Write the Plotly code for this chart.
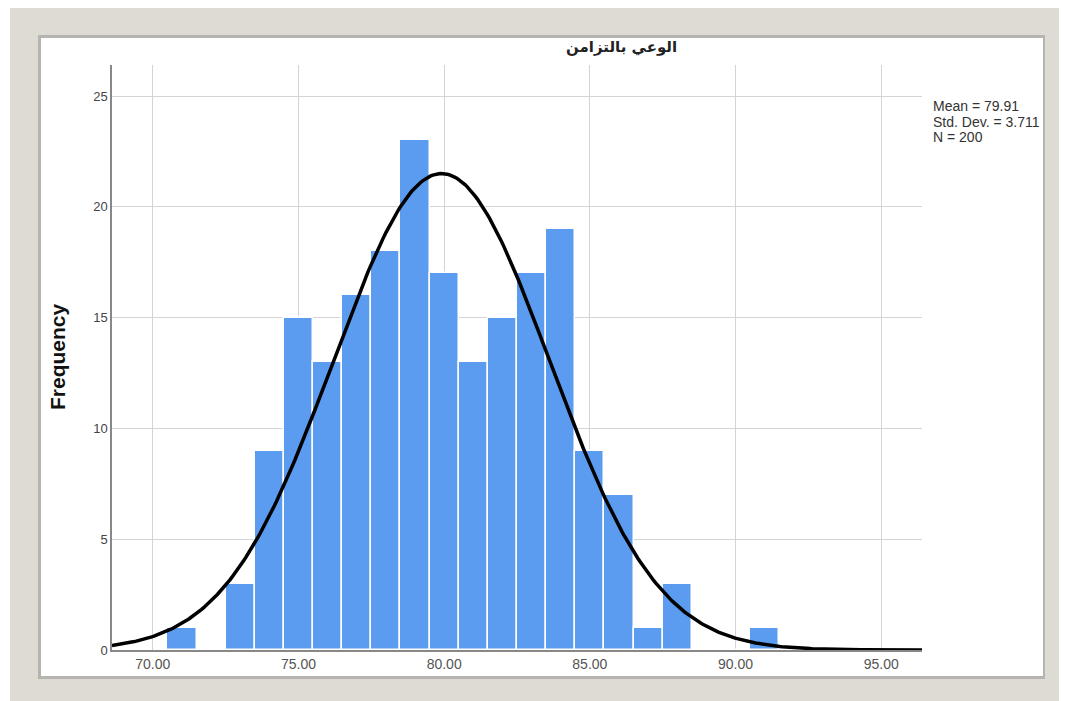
import numpy as np
import plotly.graph_objects as go

# ---- data ----
bin_centers = [71, 72, 73, 74, 75, 76, 77, 78, 79, 80, 81, 82, 83, 84, 85, 86, 87, 88, 89, 90, 91]
frequencies = [1, 0, 3, 9, 15, 13, 16, 18, 23, 17, 13, 15, 17, 19, 9, 7, 1, 3, 0, 0, 1]
mean_val = 79.91
std_val = 3.711
n_val = 200
bin_width = 1.0
x_ticks = [70, 75, 80, 85, 90, 95]
x_tick_labels = ["70.00", "75.00", "80.00", "85.00", "90.00", "95.00"]
y_ticks = [0, 5, 10, 15, 20, 25]
title_text = "الوعي بالتزامن"
stat_lines = ["Mean = %.2f" % mean_val, "Std. Dev. = %.3f" % std_val, "N = %d" % n_val]

# fitted normal curve (as drawn by SPSS from the stated statistics)
xc = np.linspace(68.6, 96.4, 400)
yc = n_val * bin_width / (std_val * np.sqrt(2 * np.pi)) * np.exp(-0.5 * ((xc - mean_val) / std_val) ** 2)

O = 8  # page body margin
W, H = 1067 - O, 701 - O
L, R, T, B = 112 - O, 922 - O, 65 - O, 650 - O

def px(x):
    return (x - O - L) / (R - L)

def py(y):
    return (B - (y - O)) / (B - T)

fig = go.Figure()
fig.add_trace(go.Bar(
    x=bin_centers, y=frequencies, width=bin_width,
    marker=dict(color="#5b9cf0", line=dict(color="white", width=1.5)),
    hoverinfo="x+y", showlegend=False,
))
fig.add_trace(go.Scatter(
    x=xc, y=yc, mode="lines", line=dict(color="black", width=3.5),
    showlegend=False, hoverinfo="skip",
))

shapes = [
    dict(type="rect", xref="paper", yref="paper", x0=px(10), x1=px(1070), y0=py(5), y1=py(705),
         fillcolor="#dddbd4", line=dict(width=0), layer="below"),
    dict(type="rect", xref="paper", yref="paper", x0=px(38), x1=px(1045), y0=py(35), y1=py(679),
         fillcolor="#b5b4ae", line=dict(width=0), layer="below"),
    dict(type="rect", xref="paper", yref="paper", x0=px(41), x1=px(1043), y0=py(38), y1=py(676),
         fillcolor="white", line=dict(width=0), layer="below"),
]

annotations = [
    dict(text="<b>" + title_text + "</b>", x=px(621), y=py(47), xref="paper", yref="paper",
         showarrow=False, font=dict(family="DejaVu Sans", size=15, color="#222"),
         xanchor="center", yanchor="middle"),
    dict(text="<b>Frequency</b>", x=px(57), y=py(357), xref="paper", yref="paper",
         showarrow=False, textangle=-90, font=dict(family="Liberation Sans", size=21, color="#111"),
         xanchor="center", yanchor="middle"),
]
for i, s in enumerate(stat_lines):
    annotations.append(dict(text=s, x=px(931), y=py(106 + 15.5 * i), xref="paper", yref="paper",
                            showarrow=False, align="left",
                            font=dict(family="Liberation Sans", size=14, color="#333"),
                            xanchor="left", yanchor="middle"))

fig.update_layout(
    width=W, height=H,
    margin=dict(l=L, r=W - R, t=T, b=H - B),
    paper_bgcolor="white", plot_bgcolor="rgba(0,0,0,0)",
    bargap=0,
    shapes=shapes, annotations=annotations,
    xaxis=dict(range=[68.6, 96.4], tickvals=x_ticks, ticktext=x_tick_labels,
               showgrid=True, gridcolor="#d4d4d4", gridwidth=1, zeroline=False,
               showline=True, linecolor="#888", linewidth=1.5, ticks="",
               tickfont=dict(family="Liberation Sans", size=14, color="#555")),
    yaxis=dict(range=[0, 26.4], tickvals=y_ticks,
               showgrid=True, gridcolor="#d4d4d4", gridwidth=1, zeroline=False,
               showline=True, linecolor="#888", linewidth=1.5, ticks="", ticklen=0,
               tickfont=dict(family="Liberation Sans", size=13, color="#444")),
)

fig.write_html("out.html")
